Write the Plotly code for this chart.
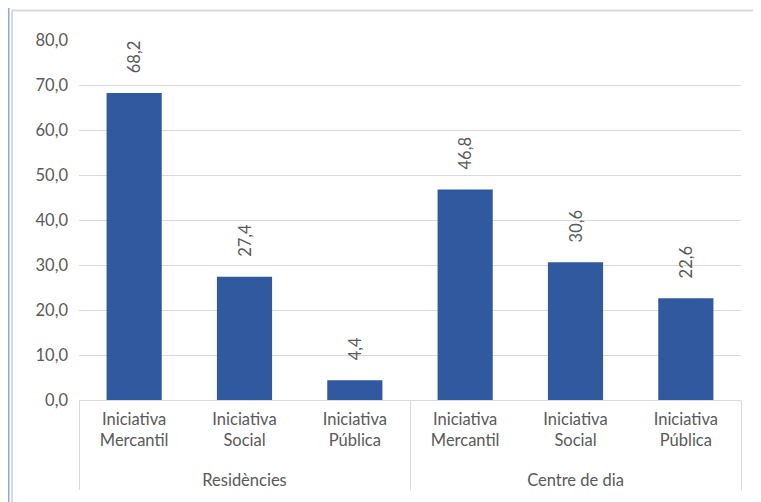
import plotly.graph_objects as go

groups = ["Residències", "Residències", "Residències", "Centre de dia", "Centre de dia", "Centre de dia"]
categories = ["Iniciativa<br>Mercantil<br> ", "Iniciativa<br>Social<br> ", "Iniciativa<br>Pública<br> ",
              "Iniciativa<br>Mercantil<br> ", "Iniciativa<br>Social<br> ", "Iniciativa<br>Pública<br> "]
values = [68.2, 27.4, 4.4, 46.8, 30.6, 22.6]
y_ticks = [0, 10, 20, 30, 40, 50, 60, 70, 80]

font_family = "Lato, 'Open Sans', sans-serif"
text_color = "#595959"
fs = 16.5
pad = "\u00a0" * 4

fig = go.Figure()
fig.add_trace(go.Bar(
    x=[groups, categories],
    y=values,
    marker=dict(color="#3159A0", line=dict(width=0)),
    width=0.5,
    text=[pad + f"{v:.1f}".replace(".", ",") for v in values],
    textposition="outside",
    textangle=-90,
    textfont=dict(family=font_family, size=fs, color=text_color),
    cliponaxis=False,
    hoverinfo="skip",
))

fig.update_layout(
    width=753, height=494,
    margin=dict(l=71, r=20, t=31.5, b=102),
    paper_bgcolor="white",
    plot_bgcolor="white",
    separators=",.",
    showlegend=False,
    font=dict(family=font_family, size=fs, color=text_color),
    shapes=[
        # outer chart frame (light gray)
        dict(type="line", xref="paper", yref="paper", x0=-0.1012, x1=1.04, y0=1.0818, y1=1.0818,
             line=dict(color="#D9D9D9", width=2)),
        dict(type="line", xref="paper", yref="paper", x0=-0.1012, x1=-0.1012, y0=1.0818, y1=-0.3,
             line=dict(color="#D9D9D9", width=2)),
        # blue frame line at left
        dict(type="line", xref="paper", yref="paper", x0=-0.1065, x1=-0.1065, y0=1.2, y1=-0.3,
             line=dict(color="#8EA9DB", width=2)),
    ],
)

fig.update_xaxes(
    type="multicategory",
    showline=True, linecolor="#D9D9D9", linewidth=1,
    showgrid=False,
    ticks="",
    ticklabelstandoff=4,
    showdividers=True, dividercolor="#D9D9D9", dividerwidth=1,
    tickfont=dict(family=font_family, size=fs, color=text_color),
)
fig.update_yaxes(
    range=[0, 80],
    tickvals=y_ticks,
    tickformat=".1f",
    showgrid=True, gridcolor="#D9D9D9", gridwidth=1,
    zeroline=False,
    showline=False,
    ticks="",
    ticklabelstandoff=10,
    tickfont=dict(family=font_family, size=fs, color=text_color),
)

fig.write_html("out.html")
